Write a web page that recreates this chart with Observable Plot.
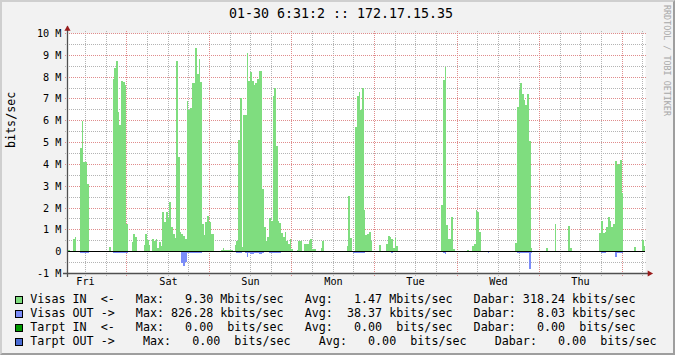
<!DOCTYPE html>
<html><head><meta charset="utf-8">
<script src="https://cdn.jsdelivr.net/npm/d3@7"></script>
<script src="https://cdn.jsdelivr.net/npm/@observablehq/plot@0.6"></script>
<style>
html,body{margin:0;padding:0;background:#fff;}
#chart{position:relative;width:675px;height:355px;background:#f2f2f2;overflow:hidden;font-family:"DejaVu Sans Mono",monospace;color:#000;}
#frame{position:absolute;left:0;top:0;width:675px;height:355px;box-sizing:border-box;border-style:solid;border-width:2px;border-color:#cfcfcf #9e9e9e #9e9e9e #cfcfcf;pointer-events:none;}
#title{position:absolute;left:0;top:6px;width:682px;text-align:center;font-size:13.3px;line-height:normal;white-space:pre;}
#plot{position:absolute;left:0;top:22px;}
.lrow{position:absolute;left:30.3px;font-size:11.7px;line-height:normal;white-space:pre;}
.sw{position:absolute;left:15px;width:8px;height:8px;box-sizing:border-box;border:1px solid #000;}
#wm{position:absolute;top:5px;left:672px;transform-origin:0 0;transform:rotate(90deg);font-size:8.4px;line-height:normal;color:#a8a8a8;white-space:pre;}
</style>
</head><body>
<div id="chart">
  <div id="title"></div>
  <div id="plot"></div>
  <div id="legend"></div>
  <div id="wm"></div>
  <div id="frame"></div>
</div>
<script>
// ---- data ----
const chartTitle = "01-30 6:31:2 :: 172.17.15.35";
const watermark = "RRDTOOL / TOBI OETIKER";
const yUnit = "bits/sec";
const days = ["Fri","Sat","Sun","Mon","Tue","Wed","Thu"];
const dayNoonHours = [12, 36, 60, 84, 108, 132, 156];
const midnightHours = [24, 48, 72, 96, 120, 144, 168];
const sixHourHours = [12,18,30,36,42,54,60,66,78,84,90,102,108,114,126,132,138,150,156,162,174];
const yTickValues = [-1,0,1,2,3,4,5,6,7,8,9,10];
const yTickLabels = ["-1 M","0","1 M","2 M","3 M","4 M","5 M","6 M","7 M","8 M","9 M","10 M"];
const yMajorGrid = [1,2,3,4,5,6,7,8,9,10];
const yMinorGrid = [-0.5,0.5,1.5,2.5,3.5,4.5,5.5,6.5,7.5,8.5,9.5];
const xDomain = [6.75, 174.75];   // hours since Fri 00:00
const yDomain = [-1, 10];          // Mbits/sec
const startHour = 6.5, stepHours = 0.5;

// Visas IN (Mbits/sec), one value per 30 minutes
const visasIn = [
2.54,0.06,0,0,0.55,0.66,0,0,4.74,5.98,
4.1,4.1,3.09,0,0,0,0,0,0,0,
0,0,0,0,0,0.2,0,7.9,8.4,8.7,
6.4,5.8,7.8,7.75,7.6,1.25,0,0,0.43,0.78,
0.66,0,0,0,0,0.28,0.8,0.5,0.28,0,
0.55,0.47,0.55,0.15,0.4,0.25,1.8,1.33,1.8,1.5,
2.27,1.1,0.8,0.6,8.7,4.3,0.87,0.8,0.7,0.55,
6.9,6.45,6.55,7.7,7.7,9.3,8.1,8.8,7.75,1.25,
0.75,1.35,1.6,1.35,0.8,0.8,0,0,0,0,
0.06,0.15,0.07,0.07,0.07,0.07,0.07,0,0.28,0.45,
5.1,7.0,0.2,6.25,6.25,9.1,7.8,8.2,7.8,7.6,
7.7,7.9,8.25,8.24,2.86,1.1,0.45,0.65,1.5,1.4,
7.1,7.5,4.8,1.4,1.3,0.85,0.65,0.9,0.45,0.35,
0.55,0.12,0,0,0.05,0.45,0.45,0,0.35,0.35,
0.35,0.45,0.55,0.1,0.1,0,0,0,0.15,0.45,
0,0,0,0,0,0,0,0,0,0,
0,0,0,0.25,2.55,0.6,0,0,5.7,7.1,
7.3,6.45,7.5,1.9,0.75,0.8,0.9,0.45,0,0,
0,0,0.3,0,0,0,0.35,0.7,0.65,0.55,
0.15,0.6,0.25,0,0,0,0,0,0,0,
0,0,0,0,0,0,0,0,0,0,
0,0,0,0,0,0,0,0,2.1,7.85,
8.45,1.18,0.56,0.56,1.56,0.1,0,0,0,0,
0,0,0,0.05,0,0,0.25,0.35,1.9,1.8,
0.88,0,0,0,0,0,0,0,0,0,
0,0,0,0,0,0,0,0,0,0,
0,0.37,6.6,7.4,7.7,7.2,6.95,6.7,7.2,5.06,
0.15,0,0,0,0,0,0,0,0,0.15,
0,0,0,0,1.25,0,0,0,0,0,
0,0,1.15,0.15,0,0,0,0,0,0,
0,0,0,0,0,0,0,0,0,0,
0.85,1.4,0.85,0.9,1.1,1.55,1.4,1.1,1.25,4.15,
3.97,4.0,4.2,2.65,0,0,0,0,0,0,
0.17,0,0,0,0,0.5,0.25
];
// Visas OUT (Mbits/sec), one value per 30 minutes, drawn below zero
const visasOut = [
0.1,0,0,0,0,0,0,0,0.09,0.09,
0.09,0.09,0.09,0,0,0,0,0,0,0,
0,0,0,0.05,0,0,0,0.1,0.1,0.1,
0.1,0.1,0.1,0.1,0.1,0.1,0,0,0,0,
0,0,0,0,0,0,0.05,0.05,0,0,
0,0,0,0,0.06,0.06,0.06,0.06,0.06,0.06,
0.06,0.06,0.06,0.06,0.06,0.06,0.06,0.55,0.7,0.5,
0.08,0.08,0.08,0.08,0.08,0.1,0.08,0.08,0.08,0,
0,0.06,0.06,0.06,0,0,0,0,0,0,
0,0,0,0.05,0,0,0,0,0,0.1,
0.1,0.1,0,0,0.1,0.25,0.1,0.15,0.15,0.1,
0.1,0.1,0.15,0.15,0.1,0,0,0,0.07,0.07,
0.1,0.1,0.07,0.07,0.07,0,0,0,0,0,
0,0,0,0,0,0,0,0,0,0,
0,0.05,0,0,0,0,0,0,0,0,
0,0,0,0,0,0,0,0,0,0,
0,0,0,0.05,0.05,0,0,0.08,0.08,0.08,
0.08,0.08,0.08,0.08,0,0,0,0,0,0,
0,0,0,0,0,0,0,0,0.05,0.1,
0,0.05,0,0,0,0,0,0,0,0,
0,0,0,0,0,0,0,0,0,0,
0,0,0,0,0,0,0,0,0.05,0.08,
0.15,0.05,0,0,0.05,0,0,0,0,0,
0,0,0,0.05,0.05,0,0.05,0.05,0.05,0.05,
0,0,0,0,0.05,0.1,0,0,0,0,
0,0,0,0,0,0,0,0,0.05,0,
0,0,0.1,0.1,0.1,0.1,0.1,0.1,0.1,0.83,
0.1,0,0,0,0,0,0,0,0,0,
0,0,0,0,0,0,0,0,0,0,
0,0,0.05,0,0,0,0,0,0,0,
0,0,0,0,0,0,0,0,0,0,
0,0.07,0.07,0.07,0,0.05,0.05,0.05,0.05,0.25,
0.07,0.07,0.07,0.07,0,0,0,0,0,0,
0,0,0,0,0,0,0
];

const legendColors = ["#7fdd7f","#7b8cf8","#009900","#4a6cd4"];
const legendRows = [
 "Visas IN  <-   Max:   9.30 Mbits/sec   Avg:   1.47 Mbits/sec   Dabar: 318.24 kbits/sec",
 "Visas OUT ->   Max: 826.28 kbits/sec   Avg:  38.37 kbits/sec   Dabar:   8.03 kbits/sec",
 "Tarpt IN  <-   Max:   0.00  bits/sec   Avg:   0.00  bits/sec   Dabar:   0.00  bits/sec",
 "Tarpt OUT ->    Max:   0.00  bits/sec    Avg:   0.00  bits/sec    Dabar:   0.00  bits/sec"
];

// ---- build ----
function toSteps(arr){
  const d = arr.map((v,k)=>({t: startHour + k*stepHours, v}));
  d.push({t: startHour + arr.length*stepHours, v: arr[arr.length-1]});
  return d;
}
const inData = toSteps(visasIn);
const outData = toSteps(visasOut);

const gridGray = "#b4b4b4", gridRed = "#e08c8c", arrowCol = "#9a1b1b", axisCol = "#505050";
const chart = Plot.plot({
  width: 675, height: 268,
  marginLeft: 67, marginRight: 30, marginTop: 11, marginBottom: 17,
  x: {domain: xDomain, axis: null, round: true},
  y: {domain: yDomain, axis: null, round: true},
  style: {background: "transparent", overflow: "visible", fontFamily: "DejaVu Sans Mono"},
  marks: [
    Plot.frame({fill: "#ffffff", stroke: "none"}),
    Plot.ruleX(sixHourHours, {stroke: gridGray, strokeDasharray: "1,1", insetBottom: -3, insetTop: -2}),
    Plot.ruleY(yMinorGrid, {stroke: gridGray, strokeDasharray: "1,1", insetLeft: -2, insetRight: -2}),
    Plot.ruleX(midnightHours, {stroke: gridRed, strokeDasharray: "1,1", insetBottom: -3, insetTop: -2}),
    Plot.ruleY(yMajorGrid, {stroke: gridRed, strokeDasharray: "1,1", insetLeft: -2, insetRight: -2}),
    Plot.areaY(inData, {x: "t", y: "v", curve: "step-after", fill: "#7fdd7f", clip: true}),
    Plot.areaY(outData, {x: "t", y: d => -d.v, curve: "step-after", fill: "#7b8cf8", clip: true}),
    Plot.ruleY([0], {stroke: "#000"}),
    Plot.ruleX([xDomain[0]], {stroke: axisCol, strokeWidth: 1.3, insetTop: -7, insetBottom: -4}),
    Plot.ruleY([yDomain[0]], {stroke: axisCol, strokeWidth: 1.3, insetLeft: -4, insetRight: -3}),
    Plot.dot([0], {frameAnchor: "top-left", dy: -4.5, symbol: "triangle", r: 2.3, fill: arrowCol, stroke: "none"}),
    Plot.dot([0], {frameAnchor: "bottom-right", dx: 4, symbol: "triangle", r: 2.3, rotate: 90, fill: arrowCol, stroke: "none"}),
    Plot.text(yTickValues, {y: d => d, frameAnchor: "left", text: (d,i) => yTickLabels[i], textAnchor: "end", dx: -6, fontSize: 10.2, fill: "#000"}),
    Plot.text(days, {x: (d,i) => dayNoonHours[i], frameAnchor: "bottom", text: d => d, lineAnchor: "top", dy: 4, fontSize: 10.2, fill: "#000"}),
    Plot.text([yUnit], {frameAnchor: "left", text: d => d, rotate: -90, dx: -56, dy: -5.5, fontSize: 11.7, fill: "#000"})
  ]
});
document.getElementById("plot").appendChild(chart);
document.getElementById("title").textContent = chartTitle;
document.getElementById("wm").textContent = watermark;
const lg = document.getElementById("legend");
legendRows.forEach((row, i) => {
  const sw = document.createElement("div");
  sw.className = "sw"; sw.style.top = (295.5 + 14*i) + "px"; sw.style.background = legendColors[i];
  lg.appendChild(sw);
  const r = document.createElement("div");
  r.className = "lrow"; r.style.top = (292.4 + 14*i) + "px"; r.textContent = row;
  lg.appendChild(r);
});
</script>
</body></html>
